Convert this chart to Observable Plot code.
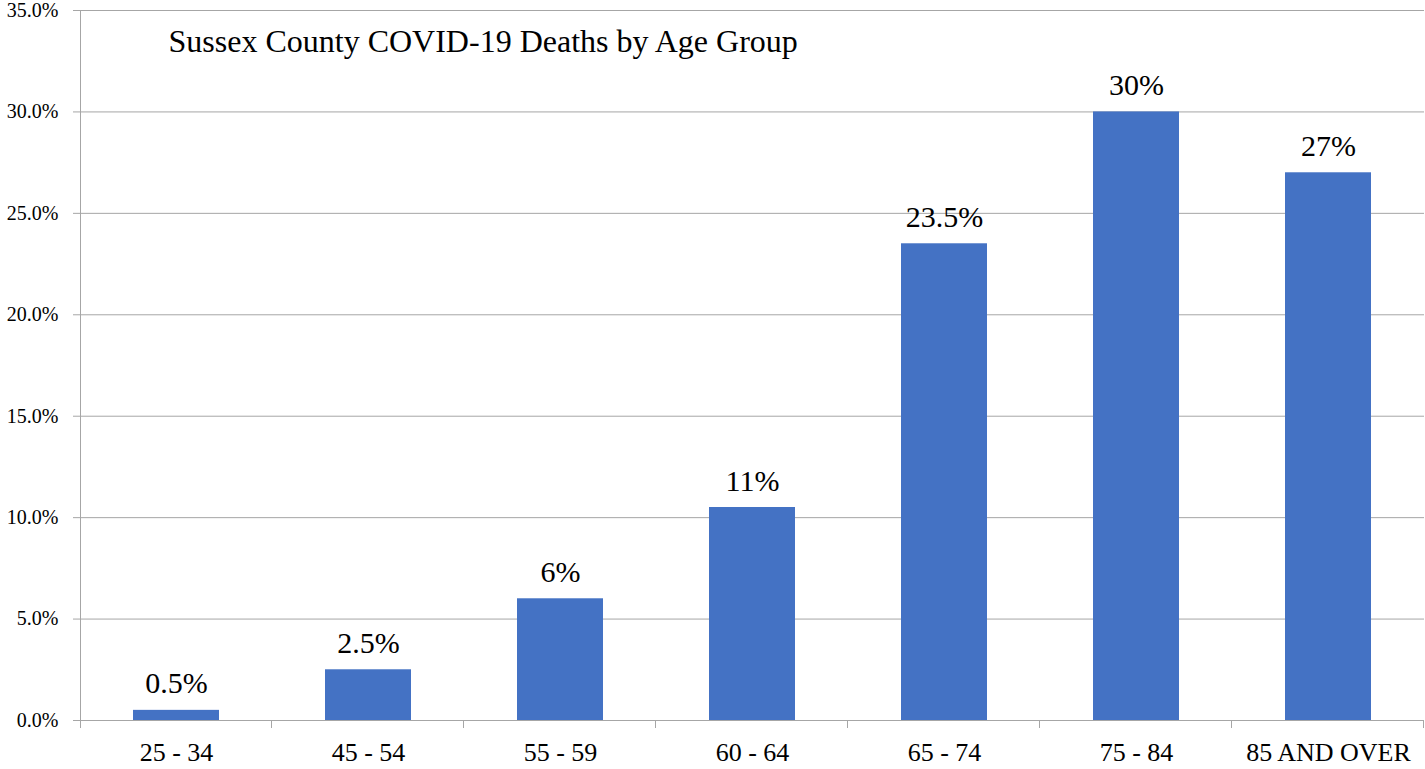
<!DOCTYPE html>
<html>
<head>
<meta charset="utf-8">
<script src="https://cdn.jsdelivr.net/npm/d3@7"></script>
<script src="https://cdn.jsdelivr.net/npm/@observablehq/plot@0.6"></script>
<style>
  html, body { margin: 0; padding: 0; background: #fff; }
  #chart { width: 1425px; height: 769px; }
</style>
</head>
<body>
<div id="chart"></div>
<script>
const titleText = "Sussex County COVID-19 Deaths by Age Group";
const ageGroups = ["25 - 34", "45 - 54", "55 - 59", "60 - 64", "65 - 74", "75 - 84", "85 AND OVER"];
const deathShares = [0.5, 2.5, 6, 10.5, 23.5, 30, 27];
const shareLabels = ["0.5%", "2.5%", "6%", "11%", "23.5%", "30%", "27%"];
const yTicks = [0, 5, 10, 15, 20, 25, 30, 35];

const data = ageGroups.map((g, i) => ({group: g, share: deathShares[i], label: shareLabels[i]}));
const gridColor = "#a6a6a6";

const chart = Plot.plot({
  width: 1425,
  height: 769,
  marginLeft: 80,
  marginRight: 1,
  marginTop: 10,
  marginBottom: 49,
  style: {fontFamily: "'Liberation Serif', 'Times New Roman', serif", color: "#000", background: "#fff"},
  x: {domain: ageGroups, padding: 0, label: null},
  y: {domain: [0, 35], label: null},
  marks: [
    Plot.gridY(yTicks, {stroke: gridColor, strokeOpacity: 1, strokeWidth: 1}),
    Plot.axisY(yTicks, {tickFormat: d => d.toFixed(1) + "%", tickSize: 7, tickPadding: 15, stroke: gridColor, fontSize: 20, label: null}),
    Plot.axisX({tickSize: 0, tickPadding: 22, fontSize: 26, label: null}),
    Plot.barY(data, {x: "group", y: "share", fill: "#4472C4", insetLeft: 53, insetRight: 53}),
    Plot.text(data, {x: "group", y: "share", text: "label", lineAnchor: "bottom", dy: -17, fontSize: 30, fill: "#000"}),
    Plot.text([titleText], {frameAnchor: "top-left", textAnchor: "start", lineAnchor: "top", dx: 88, dy: 19, fontSize: 32, fill: "#000"})
  ]
});
document.getElementById("chart").appendChild(chart);

// y-axis line and category boundary ticks, positioned through the x band scale
const sx = chart.scale("x");
const sy = chart.scale("y");
const svg = d3.select(chart);
const y0 = sy.apply(0);
const yTop = sy.apply(35);
const bounds = ageGroups.map(g => sx.apply(g));
bounds.push(sx.apply(ageGroups[ageGroups.length - 1]) + sx.bandwidth);
const g = svg.append("g").attr("stroke", gridColor).attr("stroke-width", 1);
g.append("line").attr("x1", bounds[0] + 0.5).attr("x2", bounds[0] + 0.5).attr("y1", yTop).attr("y2", y0 + 8);
bounds.slice(1).forEach(b => {
  g.append("line").attr("x1", b - 0.5).attr("x2", b - 0.5).attr("y1", y0).attr("y2", y0 + 8);
});
</script>
</body>
</html>
